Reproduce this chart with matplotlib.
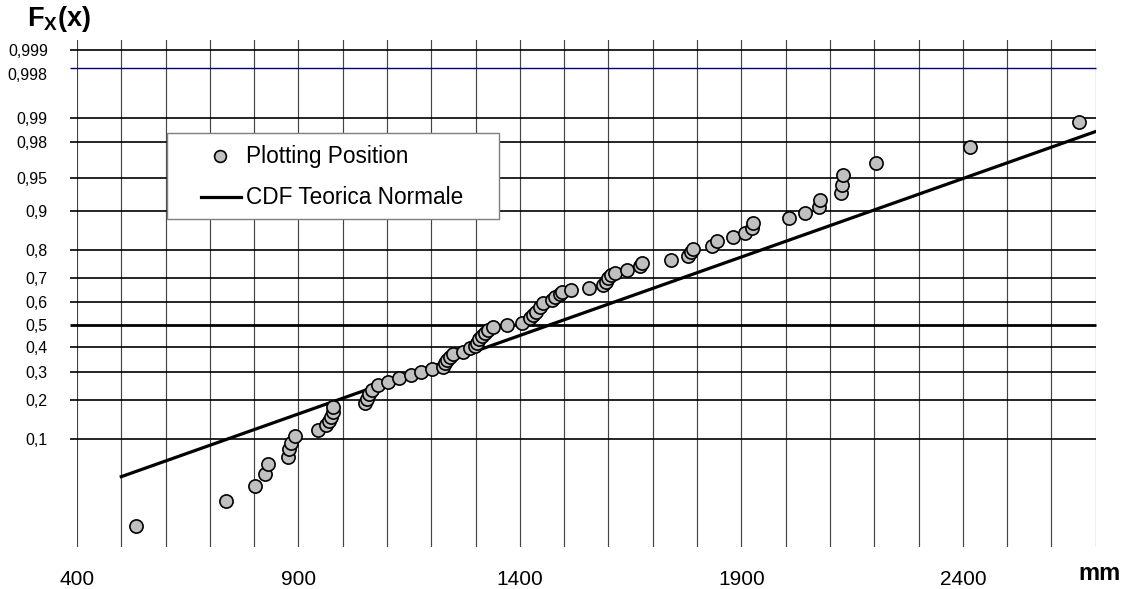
import matplotlib
matplotlib.use("Agg")
import matplotlib.pyplot as plt
from matplotlib.lines import Line2D
from matplotlib.patches import Rectangle
from matplotlib.transforms import ScaledTranslation
from statistics import NormalDist

plt.rcParams['font.family'] = ['Liberation Sans', 'DejaVu Sans']
plt.rcParams['mathtext.fontset'] = 'custom'
plt.rcParams['mathtext.rm'] = 'Liberation Sans'
plt.rcParams['mathtext.it'] = 'Liberation Sans:italic'
plt.rcParams['mathtext.bf'] = 'Liberation Sans:bold'

# %% data
pp_x = [533, 737, 802, 825, 831, 877, 879, 883, 893, 943,
        962, 968, 973, 977, 979, 1051, 1055, 1060, 1065, 1079,
        1103, 1128, 1154, 1176, 1201, 1226, 1231, 1236, 1242, 1250,
        1272, 1287, 1299, 1303, 1308, 1314, 1321, 1329, 1340, 1370,
        1404, 1423, 1430, 1436, 1445, 1453, 1472, 1479, 1491, 1494,
        1515, 1557, 1588, 1594, 1600, 1605, 1615, 1641, 1671, 1676,
        1740, 1780, 1786, 1791, 1834, 1844, 1881, 1908, 1923, 1926,
        2008, 2044, 2076, 2078, 2125, 2127, 2130, 2203, 2416, 2662]
pp_F = [0.0121, 0.0242, 0.0352, 0.0471, 0.0596, 0.0697, 0.0809, 0.0933, 0.106, 0.119,
        0.1305, 0.1403, 0.1505, 0.164, 0.1775, 0.1887, 0.2027, 0.219, 0.234, 0.250,
        0.262, 0.2766, 0.2868, 0.2973, 0.3103, 0.3195, 0.3332, 0.3468, 0.3606, 0.3719,
        0.3817, 0.3963, 0.4063, 0.4207, 0.4357, 0.4503, 0.465, 0.477, 0.489, 0.499,
        0.5096, 0.5284, 0.5418, 0.5573, 0.578, 0.5955, 0.610, 0.624, 0.6353, 0.645,
        0.652, 0.6605, 0.6727, 0.686, 0.6995, 0.7123, 0.721, 0.731, 0.7457, 0.7574,
        0.7667, 0.7817, 0.793, 0.8042, 0.8127, 0.8275, 0.837, 0.8494, 0.8608, 0.8729,
        0.8842, 0.896, 0.9077, 0.9196, 0.9307, 0.9418, 0.9538, 0.9654, 0.9769, 0.9886]

cdf_x = [500, 2700]
cdf_F = [0.0442, 0.985]

grid_F = [0.1, 0.2, 0.3, 0.4, 0.5, 0.6, 0.7, 0.8, 0.9, 0.95, 0.98, 0.99, 0.999]
ref_F = 0.998

x_ticks = [400, 900, 1400, 1900, 2400]
y_ticks = [0.1, 0.2, 0.3, 0.4, 0.5, 0.6, 0.7, 0.8, 0.9, 0.95, 0.98, 0.99, 0.998, 0.999]
y_labels = ['0,1', '0,2', '0,3', '0,4', '0,5', '0,6', '0,7', '0,8', '0,9',
            '0,95', '0,98', '0,99', '0,998', '0,999']

z = NormalDist().inv_cdf

# %% figure
W, H = 1123, 589
fig = plt.figure(figsize=(W / 100, H / 100), dpi=100)
ax = fig.add_axes([77 / W, 1 - 546.7 / H, (1095.7 - 77) / W, (546.7 - 40) / H])
ax.set_xlim(400, 2700)
ax.set_ylim(-2.49, 3.197)
for s in ax.spines.values():
    s.set_visible(False)

# vertical grid every 100 mm
for xv in range(400, 2701, 100):
    ax.axvline(xv, color='#444444', lw=0.85, zorder=1)

# horizontal probability lines, they stick out a bit on the left
for f in grid_F:
    lw = 2.0 if f == 0.5 else 1.2
    ax.plot([384, 2700], [z(f), z(f)], color='k', lw=lw, clip_on=False,
            solid_capstyle='butt', zorder=2)
ax.plot([384, 2700], [z(ref_F), z(ref_F)], color='#000080', lw=1.0,
        clip_on=False, solid_capstyle='butt', zorder=2)

ax.plot(cdf_x, [z(f) for f in cdf_F], color='k', lw=2.3, zorder=3)
ax.plot(pp_x, [z(f) for f in pp_F], 'o', ms=9.5, mfc='#c0c0c0', mec='k',
        mew=1.2, zorder=4)

ax.set_xticks(x_ticks)
ax.set_xticklabels([str(v) for v in x_ticks])
ax.set_yticks([z(f) for f in y_ticks])
ax.set_yticklabels(y_labels)
ax.tick_params(axis='x', length=0, pad=17, labelsize=15)
ax.tick_params(axis='y', length=0, pad=21, labelsize=11.5)
# Excel pushed the 0,998 label down a little so it does not hit 0,999
lab = ax.get_yticklabels()[y_labels.index('0,998')]
lab.set_transform(lab.get_transform() + ScaledTranslation(0, -0.06, fig.dpi_scale_trans))

fig.text(27 / W, 1 - 26 / H, r'$\mathbf{F_X(x)}$', fontsize=19.5, ha='left', va='baseline')
fig.text(1121 / W, 1 - 580 / H, 'mm', fontsize=17, fontweight='bold', ha='right', va='baseline')

# %% legend box
fig.add_artist(Rectangle((167 / W, 1 - 219 / H), (499 - 167) / W, (219 - 133) / H,
                         facecolor='white', edgecolor='#7f7f7f', lw=1.0, zorder=5))
fig.add_artist(Line2D([220 / W], [1 - 156 / H], marker='o', ms=8.5, mfc='#c0c0c0',
                      mec='k', mew=1.2, zorder=6))
fig.add_artist(Line2D([201 / W, 241 / W], [1 - 197 / H, 1 - 197 / H], color='k',
                      lw=2.3, zorder=6))
fig.text(246 / W, 1 - 163.3 / H, 'Plotting Position', fontsize=16.3, va='baseline', zorder=6)
fig.text(246 / W, 1 - 204.3 / H, 'CDF Teorica Normale', fontsize=16.3, va='baseline', zorder=6)

fig.savefig('out.png', dpi=100)
